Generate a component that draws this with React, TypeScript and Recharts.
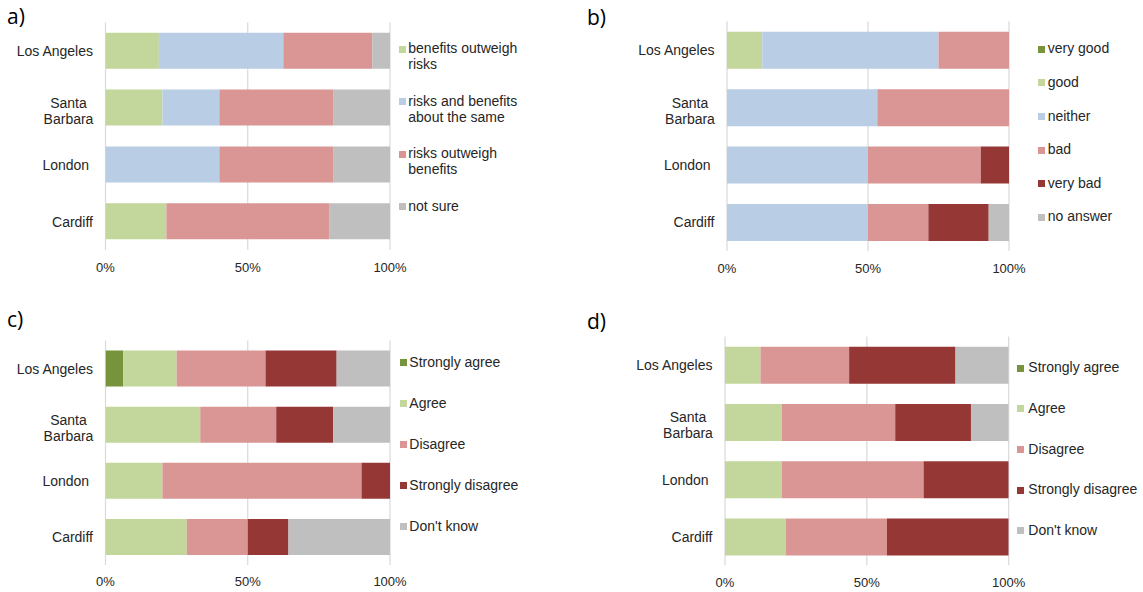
import React from 'react';
import { BarChart, Bar, XAxis, YAxis, CartesianGrid } from 'recharts';

// ---------- shared ----------
const cities = ['Los Angeles', 'Santa Barbara', 'London ', 'Cardiff'];
const xTicks = [0, 50, 100];

const C_DKGREEN = '#77933C';
const C_GREEN = '#C3D69B';
const C_BLUE = '#B9CDE5';
const C_PINK = '#D99694';
const C_DKRED = '#953735';
const C_GREY = '#BFBFBF';

// ---------- panel a ----------
const aNames = ['benefits outweigh risks', 'risks and benefits about the same', 'risks outweigh benefits', 'not sure'];
const aBenefits = [18.75, 20, 0, 21.4];
const aSame = [43.75, 20, 40, 0];
const aRisks = [31.25, 40, 40, 57.2];
const aNotSure = [6.25, 20, 20, 21.4];

// ---------- panel b ----------
const bNames = ['very good', 'good', 'neither', 'bad', 'very bad', 'no answer'];
const bVeryGood = [0, 0, 0, 0];
const bGood = [12.5, 0, 0, 0];
const bNeither = [62.5, 53.3, 50, 50];
const bBad = [25, 46.7, 40, 21.4];
const bVeryBad = [0, 0, 10, 21.4];
const bNoAnswer = [0, 0, 0, 7.2];

// ---------- panel c ----------
const cNames = ['Strongly agree', 'Agree', 'Disagree', 'Strongly disagree', "Don't know"];
const cStrongAgree = [6.25, 0, 0, 0];
const cAgree = [18.75, 33.3, 20, 28.6];
const cDisagree = [31.25, 26.7, 70, 21.4];
const cStrongDisagree = [25, 20, 10, 14.3];
const cDontKnow = [18.75, 20, 0, 35.7];

// ---------- panel d ----------
const dNames = ['Strongly agree', 'Agree', 'Disagree', 'Strongly disagree', "Don't know"];
const dStrongAgree = [0, 0, 0, 0];
const dAgree = [12.5, 20, 20, 21.4];
const dDisagree = [31.25, 40, 50, 35.7];
const dStrongDisagree = [37.5, 26.7, 30, 42.9];
const dDontKnow = [18.75, 13.3, 0, 0];

type Series = { name: string; color: string; values: number[] };

const buildRows = (series: Series[]) =>
  cities.map((city, i) => {
    const row: any = { city };
    series.forEach((s, k) => {
      row['s' + k] = s.values[i];
    });
    return row;
  });

const aSeries: Series[] = [
  { name: aNames[0], color: C_GREEN, values: aBenefits },
  { name: aNames[1], color: C_BLUE, values: aSame },
  { name: aNames[2], color: C_PINK, values: aRisks },
  { name: aNames[3], color: C_GREY, values: aNotSure },
];
const bSeries: Series[] = [
  { name: bNames[0], color: C_DKGREEN, values: bVeryGood },
  { name: bNames[1], color: C_GREEN, values: bGood },
  { name: bNames[2], color: C_BLUE, values: bNeither },
  { name: bNames[3], color: C_PINK, values: bBad },
  { name: bNames[4], color: C_DKRED, values: bVeryBad },
  { name: bNames[5], color: C_GREY, values: bNoAnswer },
];
const cSeries: Series[] = [
  { name: cNames[0], color: C_DKGREEN, values: cStrongAgree },
  { name: cNames[1], color: C_GREEN, values: cAgree },
  { name: cNames[2], color: C_PINK, values: cDisagree },
  { name: cNames[3], color: C_DKRED, values: cStrongDisagree },
  { name: cNames[4], color: C_GREY, values: cDontKnow },
];
const dSeries: Series[] = [
  { name: dNames[0], color: C_DKGREEN, values: dStrongAgree },
  { name: dNames[1], color: C_GREEN, values: dAgree },
  { name: dNames[2], color: C_PINK, values: dDisagree },
  { name: dNames[3], color: C_DKRED, values: dStrongDisagree },
  { name: dNames[4], color: C_GREY, values: dDontKnow },
];

const FONT = '"Liberation Sans", Arial, sans-serif';
const TEXT = '#262626';

const CityTick = (props: any) => {
  const { x, y, payload } = props;
  const label: string = payload.value;
  if (label.length > 12) {
    const [l1, l2] = label.split(' ');
    return (
      <text textAnchor="middle" fontSize={14} fontFamily={FONT} fill={TEXT}>
        <tspan x={x - 37} y={y}>{l1}</tspan>
        <tspan x={x - 37} y={y + 16}>{l2}</tspan>
      </text>
    );
  }
  return (
    <text
      x={x - 12.5}
      y={y}
      dy="0.36em"
      textAnchor="end"
      fontSize={14}
      fontFamily={FONT}
      fill={TEXT}
      style={{ whiteSpace: 'pre' }}
    >
      {label}
    </text>
  );
};

type PanelProps = {
  series: Series[];
  left: number;
  top: number;
  width: number;
  height: number;
  margin: { top: number; right: number; bottom: number; left: number };
  yWidth: number;
  xHeight: number;
  tickMargin: number;
};

const Panel = (p: PanelProps) => {
  const rows = buildRows(p.series);
  return (
    <div style={{ position: 'absolute', left: p.left, top: p.top }}>
      <BarChart
        width={p.width}
        height={p.height}
        data={rows}
        layout="vertical"
        margin={p.margin}
        barCategoryGap="18%"
      >
        <CartesianGrid horizontal={false} stroke="#D9D9D9" strokeWidth={1.2} />
        <XAxis
          type="number"
          domain={[0, 100]}
          ticks={xTicks}
          allowDataOverflow
          tickFormatter={(v: number) => v + '%'}
          axisLine={false}
          tickLine={false}
          height={p.xHeight}
          tickMargin={p.tickMargin}
          tick={{ fontSize: 13, fontFamily: FONT, fill: TEXT }}
          interval={0}
        />
        <YAxis
          type="category"
          dataKey="city"
          width={p.yWidth}
          axisLine={false}
          tickLine={false}
          tickSize={0}
          tickMargin={0}
          tick={<CityTick />}
          interval={0}
        />
        {p.series.map((s, k) => (
          <Bar
            key={k}
            dataKey={'s' + k}
            name={s.name}
            stackId="s"
            fill={s.color}
            isAnimationActive={false}
          />
        ))}
      </BarChart>
    </div>
  );
};

type LegendProps = {
  series: Series[];
  sqX: number;
  textX: number;
  startY: number;
  pitch: number;
  maxWidth: number;
};

const PanelLegend = (p: LegendProps) => {
  const lh = 15.7;
  return (
    <>
      {p.series.map((s, i) => {
        const cy = p.startY + i * p.pitch;
        return (
          <div
            key={i}
            style={{
              position: 'absolute',
              left: p.sqX,
              top: cy - lh / 2,
              fontFamily: FONT,
              fontSize: 14,
              lineHeight: lh + 'px',
              color: TEXT,
            }}
          >
            <div
              style={{
                position: 'absolute',
                left: 0,
                top: lh / 2 - 3.5,
                width: 7,
                height: 7,
                background: s.color,
              }}
            />
            <div
              style={{
                position: 'absolute',
                left: p.textX - p.sqX,
                top: 0,
                width: p.maxWidth,
                whiteSpace: 'normal',
              }}
            >
              {s.name}
            </div>
          </div>
        );
      })}
    </>
  );
};

export default function App() {
  return (
    <div
      style={{
        position: 'absolute',
        left: 0,
        top: 0,
        width: 1143,
        height: 592,
        background: '#ffffff',
        overflow: 'hidden',
      }}
    >
      <svg
        width={1143}
        height={592}
        style={{ position: 'absolute', left: 0, top: 0 }}
      >
        <g fontFamily='"Open Sans", sans-serif' fontSize={21} fill="#000">
          <text x={7} y={24}>a)</text>
          <text x={587} y={25}>b)</text>
          <text x={7} y={327}>c)</text>
          <text x={587} y={329}>d)</text>
        </g>
      </svg>

      <Panel
        series={aSeries}
        left={0}
        top={0}
        width={420}
        height={290}
        margin={{ top: 22.5, right: 30, bottom: 10, left: 0 }}
        yWidth={105.5}
        xHeight={30}
        tickMargin={7}
      />
      <Panel
        series={bSeries}
        left={580}
        top={0}
        width={459}
        height={291}
        margin={{ top: 21.5, right: 30, bottom: 10, left: 0 }}
        yWidth={147}
        xHeight={30}
        tickMargin={7}
      />
      <Panel
        series={cSeries}
        left={0}
        top={300}
        width={420}
        height={292}
        margin={{ top: 40.5, right: 30, bottom: 2, left: 0 }}
        yWidth={105.5}
        xHeight={25}
        tickMargin={6}
      />
      <Panel
        series={dSeries}
        left={580}
        top={300}
        width={459}
        height={292}
        margin={{ top: 36.5, right: 30.3, bottom: 1.7, left: 0 }}
        yWidth={145}
        xHeight={25}
        tickMargin={6}
      />

      <PanelLegend series={aSeries} sqX={398.5} textX={408.3} startY={49.3} pitch={52.4} maxWidth={130} />
      <PanelLegend series={bSeries} sqX={1038} textX={1047.7} startY={49.3} pitch={33.6} maxWidth={95} />
      <PanelLegend series={cSeries} sqX={400} textX={409.3} startY={362.7} pitch={41} maxWidth={130} />
      <PanelLegend series={dSeries} sqX={1017.3} textX={1028.3} startY={368.3} pitch={40.6} maxWidth={115} />
    </div>
  );
}
